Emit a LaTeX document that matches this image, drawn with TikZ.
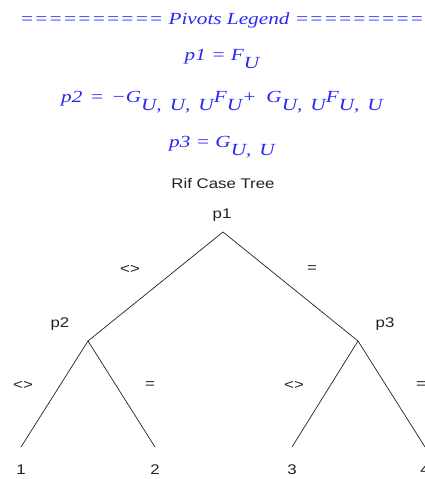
\documentclass[tikz,border=0pt]{standalone}
\usepackage{fontspec}
\usetikzlibrary{positioning}
\newfontfamily\maplefont[FakeStretch=1.25]{Liberation Serif}
\newfontfamily\treefont[FakeStretch=1.2]{Liberation Sans}
\definecolor{LegendBlue}{RGB}{40,40,245}
\definecolor{TreeInk}{HTML}{222222}
\newcommand{\lowsub}[1]{\raisebox{-8pt}{#1}}
\newcommand{\sep}{,\hspace{8pt}}

\tikzset{
  legend/.style={text=LegendBlue, font=\maplefont\itshape\fontsize{17}{20}\selectfont, inner sep=0pt, anchor=base},
  treelabel/.style={text=TreeInk, font=\treefont\fontsize{14}{16}\selectfont, inner sep=0pt},
  branch/.style={draw=TreeInk, line width=0.7pt},
}

\begin{document}
\begin{tikzpicture}[x=1pt, y=-1pt]
  \useasboundingbox (0,0) rectangle (425,479);
  \clip (0,0) rectangle (425,479);

  % legend
  \node[legend] (title) at (229,24) {========== Pivots Legend ==========};
  \node[legend] (eqA) at (222,60) {p1 = F\lowsub{U}};
  \node[legend] (eqB) at (222,102) {p2\hspace{2pt} = \hspace{2pt}−G\lowsub{U\sep U\sep U}F\lowsub{U}+\hspace{10pt}G\lowsub{U\sep U}F\lowsub{U\sep U}};
  \node[legend] (eqC) at (222,147) {p3 = G\lowsub{U\sep U}};

  \node[treelabel, anchor=base] (caption) at (223,188) {Rif Case Tree};

  % tree
  \coordinate (root) at (223,232);
  \coordinate (nA) at (88,341);
  \coordinate (nB) at (358,341);
  \coordinate (l1) at (21,447);
  \coordinate (l2) at (155,447);
  \coordinate (l3) at (292,447);
  \coordinate (l4) at (425,447);

  \draw[branch] (nA) -- (root) -- (nB);
  \draw[branch] (l1) -- (nA) -- (l2);
  \draw[branch] (l3) -- (nB) -- (l4);

  \node[treelabel, anchor=base] (pA) at (222,218) {p1};
  \node[treelabel, anchor=base] (pB) at (60,327) {p2};
  \node[treelabel, anchor=base] (pC) at (385,327) {p3};

  \node[treelabel] (neA) at (130,269) {<>};
  \node[treelabel] (eqtA) at (312,269) {=};
  \node[treelabel] (neB) at (23,385) {<>};
  \node[treelabel] (eqtB) at (150,385) {=};
  \node[treelabel] (neC) at (294,385) {<>};
  \node[treelabel] (eqtC) at (421,385) {=};

  \node[treelabel, below=18pt of l1] (d1) {1};
  \node[treelabel, below=18pt of l2] (d2) {2};
  \node[treelabel, below=18pt of l3] (d3) {3};
  \node[treelabel, below=18pt of l4] (d4) {4};
\end{tikzpicture}
\end{document}
